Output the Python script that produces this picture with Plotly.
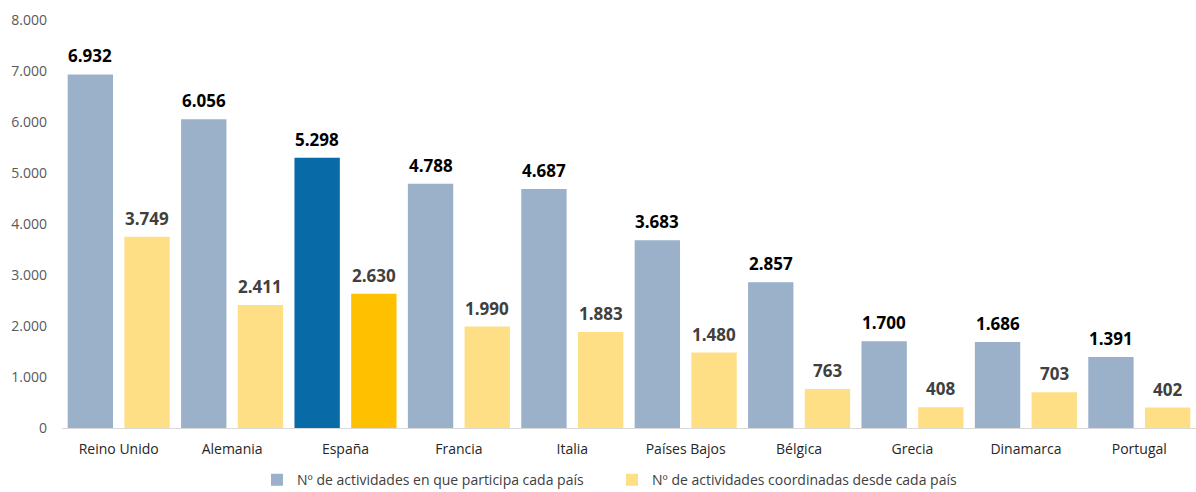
import plotly.graph_objects as go

paises = ["Reino Unido", "Alemania", "España", "Francia", "Italia",
          "Países Bajos", "Bélgica", "Grecia", "Dinamarca", "Portugal"]
participa = [6932, 6056, 5298, 4788, 4687, 3683, 2857, 1700, 1686, 1391]
coordina = [3749, 2411, 2630, 1990, 1883, 1480, 763, 408, 703, 402]
y_ticks = [0, 1000, 2000, 3000, 4000, 5000, 6000, 7000, 8000]

FONT = "Open Sans"
azul, azul_es = "#9BB1CA", "#086AA6"
amarillo, amarillo_es = "#FFDF85", "#FFC000"

col_part = [azul_es if p == "España" else azul for p in paises]
col_coord = [amarillo_es if p == "España" else amarillo for p in paises]

def fmt(v):
    return f"{v:,}".replace(",", ".")

fig = go.Figure()
fig.add_trace(go.Bar(
    x=paises, y=participa, name="Nº de actividades en que participa cada país",
    marker=dict(color=col_part, line=dict(width=0)),
    offsetgroup="a",
))
fig.add_trace(go.Bar(
    x=paises, y=coordina, name="Nº de actividades coordinadas desde cada país",
    marker=dict(color=col_coord, line=dict(width=0)),
    offsetgroup="b",
))

# Value labels above each bar (each group is shifted by a quarter category)
for i, p in enumerate(paises):
    fig.add_annotation(x=i - 0.25, y=participa[i], text=fmt(participa[i]),
                       xref="x", yref="y", showarrow=False, yanchor="bottom", yshift=5,
                       font=dict(family=FONT, size=17, color="#000000", weight="bold"))
    fig.add_annotation(x=i + 0.25, y=coordina[i], text=fmt(coordina[i]),
                       xref="x", yref="y", showarrow=False, yanchor="bottom", yshift=5,
                       font=dict(family=FONT, size=17, color="#404040", weight="bold"))

fig.update_layout(
    width=1196, height=492,
    margin=dict(l=62, r=0, t=20, b=64, autoexpand=False),
    paper_bgcolor="white", plot_bgcolor="white",
    barmode="group", bargap=0.0, bargroupgap=0.2,
    separators=",.",
    font=dict(family=FONT, size=14, color="#595959"),
    showlegend=True,
    legend=dict(orientation="h", x=0.485, xanchor="center",
                yref="container", y=0.024, yanchor="middle",
                font=dict(family=FONT, size=14, color="#404040"),
                itemwidth=30, entrywidth=310, traceorder="normal"),
)
fig.update_xaxes(showline=True, linecolor="#D9D9D9", linewidth=1, ticks="",
                 ticklabelstandoff=8,
                 tickfont=dict(family=FONT, size=14, color="#262626"),
                 showgrid=False)
fig.update_yaxes(range=[0, 8000], tickvals=y_ticks, showgrid=False, zeroline=False,
                 ticks="", ticklabelstandoff=14,
                 tickfont=dict(family=FONT, size=14, color="#595959"),
                 tickformat=",d")

fig.write_html("out.html")
